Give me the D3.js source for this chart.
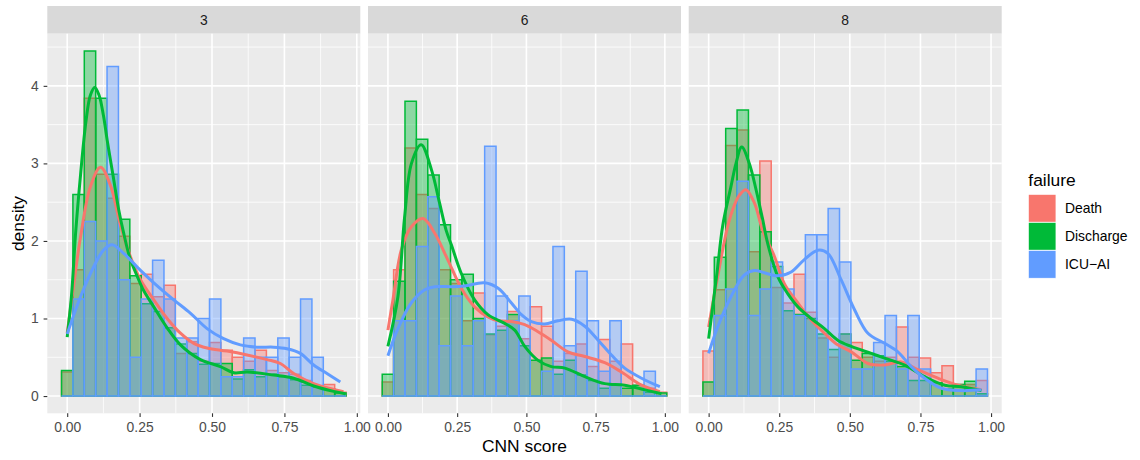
<!DOCTYPE html>
<html>
<head>
<meta charset="utf-8">
<script src="https://cdn.jsdelivr.net/npm/d3@7"></script>
<style>
  body { margin: 0; background: #fff; }
  text { font-family: "Liberation Sans", Arial, Helvetica, sans-serif; }
</style>
</head>
<body>
<svg id="chart" width="1140" height="460"></svg>
<script>
// ---- data -------------------------------------------------------------
const facets = ["3", "6", "8"];
const groups = ["Death", "Discharge", "ICU\u2212AI"];
const groupColors = ["#F8766D", "#00BA38", "#619CFF"];

// histogram bins per facet (25 bins each): left edge of first bin and bin width
const binStart = [-0.0196, -0.0206, -0.0202];
const binWidth = [0.0393, 0.0411, 0.0403];

const xTicks = [0, 0.25, 0.5, 0.75, 1];
const yTicks = [0, 1, 2, 3, 4];

// histogram densities, facet 3
const hist3Death     = [0.31,1.63,3.84,2.86,2.55,2.06,1.45,1.57,1.28,1.43,0.55,0.70,0.45,0.69,0.59,0.50,0.45,0.59,0.33,0.30,0.28,0.20,0.12,0.15,0.05];
const hist3Discharge = [0.33,2.60,4.45,3.84,2.86,2.28,1.55,1.19,1.09,0.88,0.67,0.55,0.41,0.42,0.42,0.22,0.34,0.25,0.28,0.25,0.21,0.14,0.12,0.09,0.04];
const hist3ICU       = [0,1.25,2.25,2.00,4.25,1.50,0.50,1.25,1.75,1.25,0.75,0.75,1.00,1.25,0.25,0.25,0.75,0.50,0.50,0.75,0.50,1.25,0.50,0,0];

// facet 6
const hist6Death     = [0.18,1.63,3.20,2.60,2.42,1.63,1.45,0.97,1.33,0.79,0.90,1.09,0.74,1.15,0.90,0.45,0.55,0.67,0.38,0.73,0.45,0.67,0.14,0.10,0.05];
const hist6Discharge = [0.28,1.48,3.80,3.31,2.85,2.21,1.50,1.57,1.00,0.80,0.85,1.05,0.65,0.46,0.49,0.28,0.46,0.27,0.20,0.10,0.14,0.10,0.14,0.05,0.04];
const hist6ICU       = [0,0.97,0.97,1.93,2.57,0.65,1.29,0.65,0.97,3.22,1.29,0.97,1.29,0,0.32,1.93,0.65,1.61,0.97,0.32,0.97,0,0,0.32,0];

// facet 8
const hist8Death     = [0.58,1.37,3.23,3.43,1.86,3.03,1.40,1.20,1.57,1.08,0.75,0.50,0.80,0.69,0.50,0.45,0.50,0.89,0.50,0.49,0.30,0.39,0.15,0.15,0.20];
const hist8Discharge = [0.18,1.79,3.45,3.69,2.85,2.12,1.67,1.10,1.05,1.00,0.80,0.60,0.80,0.46,0.55,0.52,0.45,0.38,0.20,0.20,0.17,0.09,0.15,0.19,0.03];
const hist8ICU       = [0,1.04,1.38,2.77,1.04,1.38,1.73,1.38,1.04,2.08,2.08,2.42,1.73,0.35,0.35,0.69,1.04,0.35,1.04,0.35,0,0,0,0,0.35];

// kernel density curves: [CNN score, density]
const dens3Death = [[0,0.81],[0.023,1.45],[0.046,2.05],[0.08,2.7],[0.115,2.95],[0.149,2.72],[0.184,2.2],[0.218,1.8],[0.253,1.5],[0.299,1.24],[0.345,1.0],[0.391,0.81],[0.437,0.68],[0.483,0.62],[0.552,0.58],[0.621,0.53],[0.69,0.47],[0.736,0.42],[0.782,0.29],[0.851,0.16],[0.92,0.086],[0.954,0.056]];
const dens3Discharge = [[0,0.76],[0.015,1.3],[0.029,2.1],[0.046,2.85],[0.065,3.55],[0.08,3.88],[0.095,3.98],[0.11,3.88],[0.125,3.62],[0.138,3.3],[0.158,2.85],[0.178,2.4],[0.195,2.1],[0.215,1.8],[0.241,1.55],[0.264,1.36],[0.299,1.15],[0.345,0.88],[0.391,0.66],[0.46,0.47],[0.529,0.38],[0.575,0.3],[0.621,0.31],[0.713,0.27],[0.782,0.23],[0.851,0.13],[0.92,0.06],[0.96,0.03]];
const dens3ICU = [[0,0.8],[0.046,1.28],[0.092,1.67],[0.125,1.88],[0.155,1.95],[0.195,1.84],[0.253,1.62],[0.299,1.46],[0.368,1.24],[0.425,1.07],[0.483,0.87],[0.54,0.74],[0.598,0.66],[0.655,0.63],[0.713,0.63],[0.759,0.61],[0.805,0.55],[0.851,0.4],[0.897,0.29],[0.943,0.18]];

const dens6Death = [[0,0.85],[0.018,1.24],[0.048,1.88],[0.084,2.18],[0.127,2.29],[0.169,2.1],[0.217,1.75],[0.265,1.39],[0.313,1.15],[0.361,1.02],[0.398,0.97],[0.446,0.96],[0.494,0.92],[0.542,0.83],[0.59,0.72],[0.65,0.57],[0.711,0.51],[0.783,0.43],[0.843,0.31],[0.916,0.14],[0.982,0.056]];
const dens6Discharge = [[0,0.64],[0.036,1.28],[0.06,2.3],[0.085,3.0],[0.12,3.24],[0.157,2.92],[0.187,2.48],[0.21,2.14],[0.229,1.95],[0.265,1.58],[0.313,1.24],[0.361,1.05],[0.42,0.94],[0.458,0.85],[0.494,0.64],[0.542,0.46],[0.59,0.38],[0.639,0.36],[0.711,0.25],[0.783,0.16],[0.855,0.14],[0.928,0.08],[0.988,0.03]];
const dens6ICU = [[0,0.52],[0.036,0.87],[0.084,1.2],[0.133,1.37],[0.169,1.41],[0.229,1.41],[0.277,1.42],[0.349,1.46],[0.398,1.39],[0.446,1.2],[0.482,1.05],[0.518,0.96],[0.566,0.93],[0.614,0.97],[0.663,0.99],[0.711,0.9],[0.759,0.72],[0.807,0.53],[0.855,0.36],[0.916,0.23],[0.982,0.12]];

const dens8Death = [[0,0.89],[0.032,1.54],[0.067,2.18],[0.09,2.45],[0.109,2.59],[0.132,2.66],[0.162,2.49],[0.191,2.14],[0.233,1.8],[0.268,1.45],[0.316,1.2],[0.363,0.98],[0.41,0.81],[0.457,0.66],[0.505,0.57],[0.564,0.42],[0.623,0.4],[0.682,0.44],[0.741,0.34],[0.812,0.23],[0.883,0.14],[0.966,0.08]];
const dens8Discharge = [[0,0.74],[0.03,1.6],[0.05,2.2],[0.079,2.7],[0.097,3.0],[0.117,3.21],[0.144,3.0],[0.168,2.66],[0.19,2.3],[0.209,1.97],[0.245,1.54],[0.28,1.32],[0.316,1.15],[0.363,1.0],[0.41,0.87],[0.457,0.72],[0.505,0.64],[0.576,0.55],[0.623,0.49],[0.694,0.4],[0.765,0.25],[0.836,0.14],[0.895,0.12],[0.966,0.07]];
const dens8ICU = [[0,0.55],[0.032,0.89],[0.079,1.28],[0.126,1.56],[0.162,1.62],[0.197,1.59],[0.245,1.55],[0.292,1.6],[0.339,1.76],[0.387,1.88],[0.422,1.84],[0.469,1.5],[0.517,1.11],[0.564,0.81],[0.623,0.68],[0.67,0.57],[0.717,0.38],[0.765,0.23],[0.824,0.1],[0.895,0.07],[0.966,0.08]];

const hists = [
  [hist3Death, hist3Discharge, hist3ICU],
  [hist6Death, hist6Discharge, hist6ICU],
  [hist8Death, hist8Discharge, hist8ICU]
];
const dens = [
  [dens3Death, dens3Discharge, dens3ICU],
  [dens6Death, dens6Discharge, dens6ICU],
  [dens8Death, dens8Discharge, dens8ICU]
];

// ---- layout -----------------------------------------------------------
const W = 1140, H = 460;
const plotLeft = 47.3, plotRight = 1001.7, gap = 7.7;
const stripTop = 6, panelTop = 33.7, panelBottom = 413.3;
const panelW = (plotRight - plotLeft - 2 * gap) / 3;
const FONT = '"Liberation Sans", Arial, Helvetica, sans-serif';
const tickFont = 13.9, titleFont = 17.4;

const svg = d3.select("#chart");
svg.append("rect").attr("width", W).attr("height", H).attr("fill", "#fff");

// shared y scale (ggplot-style 5% expansion)
const yMax = d3.max(hists.flat(2).concat(dens.flat(2).map(d => d[1])));
const y = d3.scaleLinear()
  .domain([-0.05 * yMax, 1.05 * yMax])
  .range([panelBottom, panelTop]);
const yMinor = d3.range(0.5, y.domain()[1], 1);

function barPath(x0, x1, y0, y1) {
  return `M${x0},${y0}H${x1}V${y1}H${x0}Z`;
}

facets.forEach((f, i) => {
  const px0 = plotLeft + i * (panelW + gap);
  const nb = hists[i][0].length;
  const lo = binStart[i];
  const hi = binStart[i] + binWidth[i] * nb;
  const pad = 0.05 * (hi - lo);
  const x = d3.scaleLinear().domain([lo - pad, hi + pad]).range([px0, px0 + panelW]);
  const xMinor = d3.range(-0.125, x.domain()[1], 0.25).filter(v => v > x.domain()[0]);

  const g = svg.append("g");

  // strip
  g.append("rect")
    .attr("x", px0).attr("y", stripTop)
    .attr("width", panelW).attr("height", panelTop - stripTop)
    .attr("fill", "#D9D9D9");
  g.append("text")
    .attr("x", px0 + panelW / 2).attr("y", (stripTop + panelTop) / 2)
    .attr("dy", "0.36em").attr("text-anchor", "middle")
    .attr("font-size", tickFont).attr("fill", "#1A1A1A")
    .text(f);

  // panel background
  g.append("rect")
    .attr("x", px0).attr("y", panelTop)
    .attr("width", panelW).attr("height", panelBottom - panelTop)
    .attr("fill", "#EBEBEB");

  // grid lines
  const grid = g.append("g").attr("stroke", "#fff").attr("fill", "none");
  grid.selectAll(".ymn").data(yMinor).join("line")
    .attr("x1", px0).attr("x2", px0 + panelW)
    .attr("y1", d => y(d)).attr("y2", d => y(d)).attr("stroke-width", 0.8);
  grid.selectAll(".xmn").data(xMinor).join("line")
    .attr("x1", d => x(d)).attr("x2", d => x(d))
    .attr("y1", panelTop).attr("y2", panelBottom).attr("stroke-width", 0.8);
  grid.selectAll(".ymj").data(yTicks).join("line")
    .attr("x1", px0).attr("x2", px0 + panelW)
    .attr("y1", d => y(d)).attr("y2", d => y(d)).attr("stroke-width", 1.6);
  grid.selectAll(".xmj").data(xTicks).join("line")
    .attr("x1", d => x(d)).attr("x2", d => x(d))
    .attr("y1", panelTop).attr("y2", panelBottom).attr("stroke-width", 1.6);

  // histograms (overlaid, identity position)
  groups.forEach((grp, j) => {
    g.append("g").selectAll("path").data(hists[i][j]).join("path")
      .attr("d", (d, k) => barPath(
        x(lo + k * binWidth[i]), x(lo + (k + 1) * binWidth[i]), y(0), y(d)))
      .attr("fill", groupColors[j]).attr("fill-opacity", 0.4)
      .attr("stroke", groupColors[j]).attr("stroke-width", 1.5)
      .attr("stroke-linejoin", "miter");
  });

  // density curves
  const line = d3.line()
    .x(d => x(d[0])).y(d => y(d[1]))
    .curve(d3.curveCatmullRom.alpha(0.5));
  groups.forEach((grp, j) => {
    g.append("path")
      .attr("d", line(dens[i][j]))
      .attr("fill", "none")
      .attr("stroke", groupColors[j])
      .attr("stroke-width", 3)
      .attr("stroke-linejoin", "round");
  });

  // x axis
  const ax = svg.append("g")
    .attr("transform", `translate(0,${panelBottom})`)
    .call(d3.axisBottom(x).tickValues(xTicks).tickFormat(d3.format(".2f"))
      .tickSize(3.6).tickPadding(5.4));
  ax.select(".domain").remove();
  ax.selectAll("line").attr("stroke", "#333").attr("stroke-width", 1.1);
  ax.selectAll("text").attr("font-size", tickFont).attr("fill", "#4D4D4D")
    .attr("font-family", FONT);

  // y axis on first facet only
  if (i === 0) {
    const ay = svg.append("g")
      .attr("transform", `translate(${px0},0)`)
      .call(d3.axisLeft(y).tickValues(yTicks).tickFormat(d3.format("d"))
        .tickSize(3.7).tickPadding(5));
    ay.select(".domain").remove();
    ay.selectAll("line").attr("stroke", "#333").attr("stroke-width", 1.1);
    ay.selectAll("text").attr("font-size", tickFont).attr("fill", "#4D4D4D")
      .attr("font-family", FONT);
  }
});

// axis titles
svg.append("text")
  .attr("x", (plotLeft + plotRight) / 2).attr("y", 451.5)
  .attr("text-anchor", "middle").attr("font-size", titleFont).attr("fill", "#000")
  .text("CNN score");
svg.append("text")
  .attr("transform", `translate(24,${(panelTop + panelBottom) / 2}) rotate(-90)`)
  .attr("text-anchor", "middle").attr("font-size", titleFont).attr("fill", "#000")
  .text("density");

// legend
const lg = svg.append("g").attr("transform", "translate(1028.3,0)");
lg.append("text").attr("x", 0).attr("y", 185.5)
  .attr("font-size", titleFont).attr("fill", "#000").text("failure");
const keyTop = 194.3, keySize = 28;
groups.forEach((grp, j) => {
  lg.append("rect")
    .attr("x", 0).attr("y", keyTop + j * keySize)
    .attr("width", keySize - 0.3).attr("height", keySize)
    .attr("fill", groupColors[j]).attr("stroke", "#fff").attr("stroke-width", 0.8);
  lg.append("text")
    .attr("x", 36.7).attr("y", keyTop + j * keySize + keySize / 2)
    .attr("dy", "0.36em").attr("font-size", tickFont).attr("fill", "#000")
    .text(grp);
});
</script>
</body>
</html>
